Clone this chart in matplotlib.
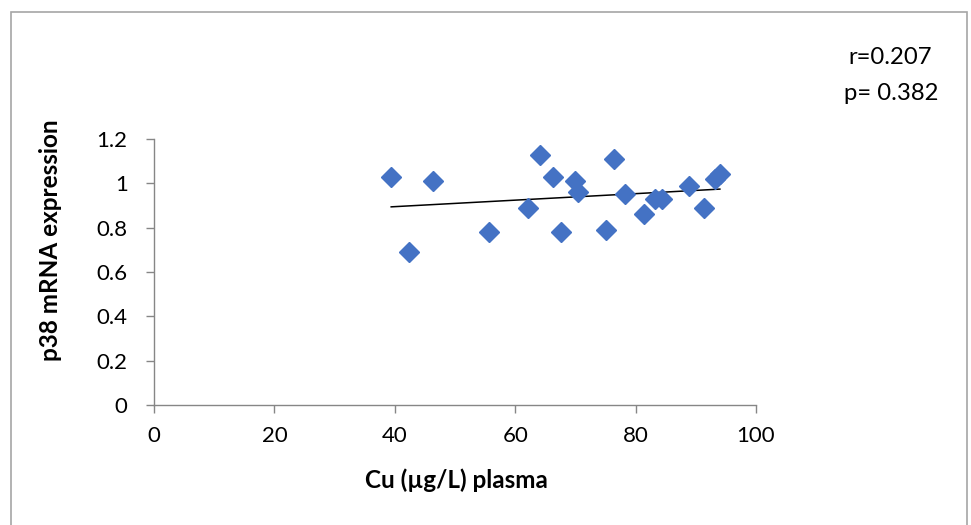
import matplotlib.pyplot as plt
import numpy as np

plt.rcParams['font.family'] = ['Lato', 'DejaVu Sans']

# Cu plasma (ug/L) vs p38 mRNA expression
cu = [39.4, 42.3, 46.3, 55.6, 62.2, 64.2, 66.2, 67.6, 70.0, 70.4,
      75.0, 76.4, 78.2, 81.4, 83.2, 84.4, 88.9, 91.3, 93.2, 94.0]
p38 = [1.03, 0.69, 1.01, 0.78, 0.89, 1.13, 1.03, 0.78, 1.01, 0.96,
       0.79, 1.11, 0.95, 0.86, 0.93, 0.93, 0.99, 0.89, 1.02, 1.04]
xticks = [0, 20, 40, 60, 80, 100]
yticks = [0, 0.2, 0.4, 0.6, 0.8, 1, 1.2]
ytick_labels = ['0', '0.2', '0.4', '0.6', '0.8', '1', '1.2']

fig = plt.figure(figsize=(9.71, 5.25), dpi=100)
ax = fig.add_axes([154/971, 1 - 405/525, (756-154)/971, (405-139)/525])

ax.plot(cu, p38, linestyle='none', marker='D', markersize=9.8,
        color='#4472C4', zorder=3)

# linear trendline
k, b = np.polyfit(cu, p38, 1)
xs = np.array([min(cu), max(cu)])
ax.plot(xs, k * xs + b, color='black', linewidth=1.1, zorder=2)

ax.set_xlim(0, 100)
ax.set_ylim(0, 1.2)
ax.set_xticks(xticks)
ax.set_yticks(yticks)
ax.set_yticklabels(ytick_labels)
for s in ['top', 'right']:
    ax.spines[s].set_visible(False)
for s in ['left', 'bottom']:
    ax.spines[s].set_color('#868686')
    ax.spines[s].set_linewidth(1)
ax.tick_params(colors='#868686', length=6, width=1, labelsize=16,
               labelcolor='black')
ax.tick_params(axis='x', pad=9)
ax.tick_params(axis='y', pad=13)

fig.text(456/971, 1 - 480/525, 'Cu (µg/L) plasma', ha='center', va='center',
         fontsize=17.5, fontweight='bold')
fig.text(50/971, 1 - 240/525, 'p38 mRNA expression', ha='center', va='center',
         rotation=90, fontsize=17.5, fontweight='bold')
fig.text(932/971, 1 - 57/525, 'r=0.207', ha='right', va='center', fontsize=17.2)
fig.text(938/971, 1 - 93/525, 'p= 0.382', ha='right', va='center', fontsize=17.2)

# chart border
fig.patches.append(plt.Rectangle((11/971, -0.01), (967-11)/971, 1.01 - 12/525,
                                 transform=fig.transFigure, fill=False,
                                 edgecolor='#a6a6a6', linewidth=1.2))

fig.savefig('out.png', dpi=100)
